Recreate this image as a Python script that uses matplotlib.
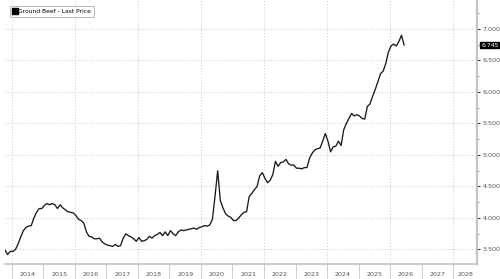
import matplotlib
matplotlib.use("Agg")
import matplotlib.pyplot as plt
import numpy as np
from matplotlib.lines import Line2D

# Monthly series, first point ~Oct 2013
start_year = 2013.78
prices = [
    3.49, 3.42, 3.47, 3.47, 3.50, 3.59, 3.70, 3.80, 3.85, 3.87,
    3.88, 4.00, 4.09, 4.15, 4.15, 4.20, 4.23, 4.21, 4.23, 4.21,
    4.15, 4.21, 4.16, 4.13, 4.10, 4.09, 4.08, 4.04, 3.98, 3.96,
    3.92, 3.78, 3.71, 3.70, 3.67, 3.67, 3.68, 3.62, 3.59, 3.57,
    3.56, 3.55, 3.58, 3.55, 3.56, 3.68, 3.75, 3.72, 3.70, 3.67,
    3.63, 3.69, 3.63, 3.64, 3.66, 3.71, 3.68, 3.72, 3.74, 3.77,
    3.72, 3.78, 3.72, 3.80, 3.75, 3.72, 3.78, 3.81, 3.80, 3.81,
    3.82, 3.83, 3.84, 3.82, 3.85, 3.86, 3.88, 3.87, 3.89, 3.98,
    4.35, 4.75, 4.28, 4.16, 4.07, 4.03, 4.01, 3.96, 3.96, 4.00,
    4.05, 4.09, 4.10, 4.34, 4.39, 4.45, 4.50, 4.67, 4.72, 4.63,
    4.56, 4.60, 4.69, 4.90, 4.82, 4.88, 4.89, 4.93, 4.86, 4.84,
    4.84, 4.79, 4.79, 4.78, 4.80, 4.80, 4.95, 5.03, 5.08, 5.10,
    5.11, 5.22, 5.34, 5.22, 5.05, 5.13, 5.14, 5.22, 5.15, 5.40,
    5.50, 5.58, 5.66, 5.62, 5.64, 5.62, 5.58, 5.57, 5.77, 5.81,
    5.93, 6.04, 6.16, 6.29, 6.33, 6.45, 6.63, 6.73, 6.76, 6.73,
    6.80, 6.90, 6.745,
]
last_label = "6.745"
series_name = "Ground Beef - Last Price"
year_labels = [str(y) for y in range(2014, 2029)]
y_ticks = [3.5, 4.0, 4.5, 5.0, 5.5, 6.0, 6.5, 7.0]

x = start_year + np.arange(len(prices)) / 12.0
xmin, xmax = 2013.78, 2028.76
ymin, ymax = 3.27, 7.46

fig = plt.figure(figsize=(5.0, 2.79), dpi=100)
ax = fig.add_axes([0.010, 0.0538, 0.944, 0.9462])
ax.set_xlim(xmin, xmax)
ax.set_ylim(ymin, ymax)

grid_c = "#c8c8c8"
for yv in y_ticks:
    ax.axhline(yv, color=grid_c, lw=0.7, ls=(0, (1, 2)), zorder=1)
for yr in range(2014, 2029, 2):
    ax.axvline(yr, color=grid_c, lw=0.7, ls=(0, (1, 2)), zorder=1)

ax.plot(x, prices, color="#1a1a1a", lw=0.95, zorder=3)

# spines
for s in ["top", "left"]:
    ax.spines[s].set_visible(False)
ax.spines["right"].set_color("#c4c4c4")
ax.spines["right"].set_linewidth(1.6)
ax.spines["bottom"].set_color("#c4c4c4")
ax.spines["bottom"].set_linewidth(1.2)

# y axis on right
ax.yaxis.tick_right()
ax.set_yticks(y_ticks)
ax.set_yticklabels([f"{v:.3f}" for v in y_ticks])
ax.set_yticks(np.arange(3.75, 7.3, 0.5), minor=True)
ax.tick_params(axis="y", which="major", length=2.5, width=0.8, color="#333333",
               labelsize=4.6, labelcolor="#555555", pad=1.5)
ax.tick_params(axis="y", which="minor", length=1.5, width=0.6, color="#888888")

# x axis: separators at year boundaries, labels centred in each year
years = np.arange(2014, 2029)
ax.set_xticks(years)
ax.set_xticklabels([""] * len(years))
ax.tick_params(axis="x", which="major", length=12, width=0.7, color="#d0d0d0")
mids = [y + 0.5 for y in years[:-1]] + [(years[-1] + xmax) / 2]
ax.set_xticks(mids, minor=True)
ax.set_xticklabels(year_labels, minor=True)
ax.tick_params(axis="x", which="minor", length=0, labelsize=4.6,
               labelcolor="#555555", pad=6)

# last price tag
ax.annotate(last_label, xy=(1.0, prices[-1]), xycoords=("axes fraction", "data"),
            xytext=(3.0, 0), textcoords="offset points", va="center", ha="left",
            fontsize=4.4, color="white",
            bbox=dict(boxstyle="square,pad=0.15", fc="black", ec="black"),
            annotation_clip=False)

# legend
handle = Line2D([], [], marker="s", ls="none", color="black", markersize=5)
leg = ax.legend([handle], [series_name], loc="upper left",
                bbox_to_anchor=(0.004, 0.99), fontsize=4.3, frameon=True,
                handlelength=0.6, handletextpad=0.3, borderpad=0.5,
                fancybox=True)
leg.get_frame().set_edgecolor("#999999")
leg.get_frame().set_linewidth(0.6)

fig.savefig("out.png", dpi=100)
